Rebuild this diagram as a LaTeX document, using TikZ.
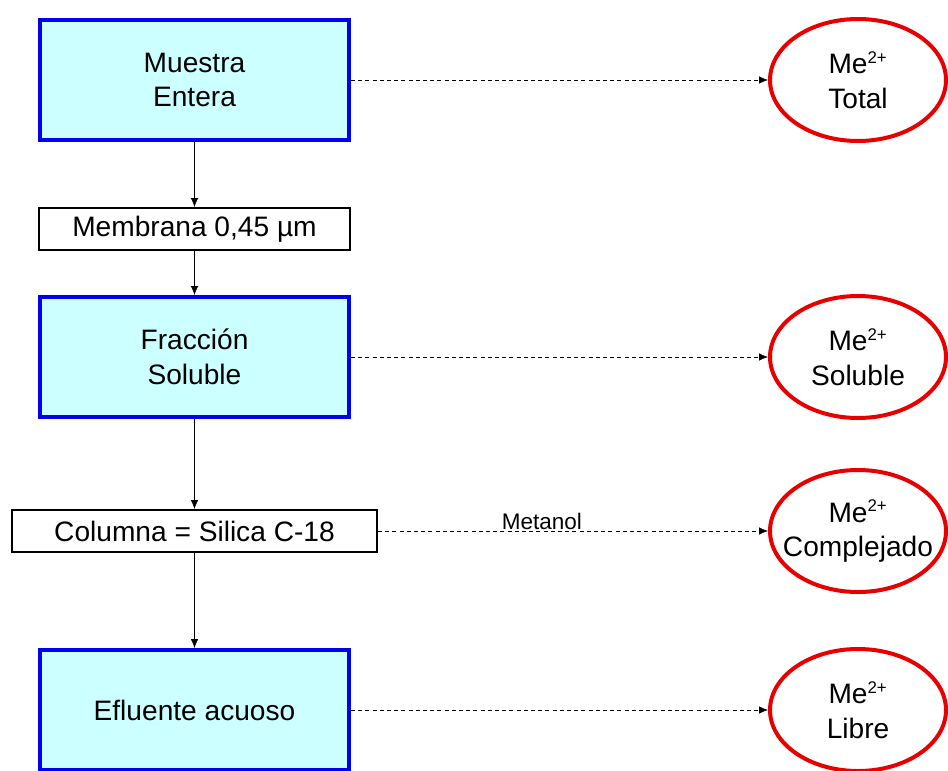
\documentclass[tikz,border=0pt]{standalone}
\usepackage{fontspec}
\setmainfont{Liberation Sans}
\usetikzlibrary{
	arrows.meta,
	positioning,
	shapes.geometric,
}
\definecolor{fasefill}{RGB}{204,255,255}
\definecolor{faseblue}{RGB}{0,0,240}
\definecolor{metalred}{RGB}{232,0,0}
\newcommand{\carga}{\textsuperscript{\fontsize{12}{12}\selectfont 2+}}
\tikzset{default node/.style={
	align=center,
	inner sep=0mm,
	font=\fontsize{20}{24.5}\selectfont,
	text=black,
}}

\begin{document}
\begin{tikzpicture}[
thin,
-{Latex[length=2.2mm,width=1.8mm]},
]
\useasboundingbox (0,0) rectangle (23.7,-19.25);

\tikzset{
	fase/.style={default node, draw=faseblue, line width=1mm, fill=fasefill,
		minimum width=7.725cm, minimum height=3cm},
	paso/.style={default node, draw, line width=0.5mm, fill=white, minimum height=1.05cm},
	metal/.style={default node, ellipse, draw=metalred, line width=1mm, fill=white,
		inner xsep=-0.5cm, minimum width=4.4cm, minimum height=3.05cm},
	lectura/.style={dash pattern=on 1mm off 0.8mm},
}

\begin{scope}[every node/.style={fase}]
\node(muestra)		at(4.8625,-2)		{Muestra\\Entera};
\node(fraccion)		at(4.8625,-8.925)	{Fracción\\Soluble};
\node(efluente)		at(4.8625,-17.75)	{Efluente acuoso};
\end{scope}

\begin{scope}[every node/.style={paso}]
\node(membrana)[minimum width=7.775cm]	at(4.8625,-5.725)	{Membrana 0,45 µm};
\node(columna)[minimum width=9.125cm]	at(4.8625,-13.275)	{Columna = Silica C-18};
\end{scope}

\begin{scope}[every node/.style={metal}]
\node(total)		at(21.45,-2)		{Me\carga\\Total};
\node(soluble)		at(21.45,-8.925)	{Me\carga\\Soluble};
\node(complejado)	at(21.45,-13.275)	{Me\carga\\Complejado};
\node(libre)		at(21.45,-17.75)	{Me\carga\\Libre};
\end{scope}

\begin{scope}
\draw (muestra) to (membrana);
\draw (membrana) to (fraccion);
\draw (fraccion) to (columna);
\draw (columna) to (efluente);
\end{scope}

\begin{scope}[lectura]
\draw (muestra) to (total);
\draw (fraccion) to (soluble);
\draw (columna) to node[pos=0.42, above, inner sep=0.3mm, font=\fontsize{16}{18}\selectfont]{Metanol} (complejado);
\draw (efluente) to (libre);
\end{scope}

\end{tikzpicture}
\end{document}
